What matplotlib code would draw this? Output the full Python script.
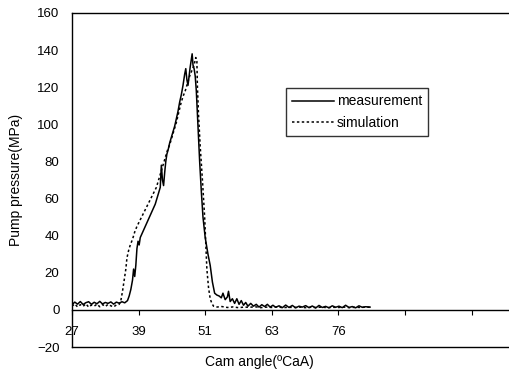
import matplotlib
matplotlib.use("Agg")
import matplotlib.pyplot as plt

plt.rcParams['font.family'] = ['Liberation Sans', 'DejaVu Sans']

# measurement (solid)
meas_x = [27.0, 27.5, 28.0, 28.5, 29.0, 29.5, 30.0, 30.5, 31.0, 31.5, 32.0, 32.5,
          33.0, 33.5, 34.0, 34.5, 35.0, 35.5, 36.0, 36.5,
          37.0, 37.3, 37.6, 37.9, 38.1, 38.3, 38.5, 38.7, 38.9, 39.1, 39.3, 39.6,
          39.9, 40.2, 40.5, 40.8, 41.1, 41.4, 41.7, 42.0, 42.3, 42.6, 42.9, 43.1,
          43.3, 43.5, 43.7, 43.9, 44.1, 44.3, 44.6, 44.9, 45.2, 45.5, 45.8, 46.1,
          46.4, 46.7, 47.0, 47.3, 47.5, 47.7, 47.9, 48.1, 48.3, 48.5, 48.65, 48.8,
          49.0, 49.2, 49.4, 49.6, 49.8, 50.0, 50.3, 50.6, 51.0, 51.5, 51.9, 52.3,
          52.7, 53.1, 53.5, 53.9, 54.2, 54.6, 55.0, 55.2, 55.5, 55.9, 56.3, 56.7,
          57.1, 57.5, 57.9, 58.3, 58.7, 59.2, 59.7, 60.2, 60.7, 61.2, 61.7, 62.2,
          62.7, 63.2, 63.7, 64.3, 64.9, 65.5, 66.1, 66.7, 67.3, 67.9, 68.5, 69.1,
          69.7, 70.3, 70.9, 71.5, 72.1, 72.7, 73.3, 73.9, 74.5, 75.1, 75.7, 76.3,
          76.9, 77.5, 78.1, 78.7, 79.3, 79.9, 80.7]
meas_y = [2.8, 4.2, 3.1, 4.5, 2.9, 3.9, 4.4, 3.0, 4.1, 3.3, 4.6, 3.2,
          4.0, 3.5, 4.3, 3.1, 4.2, 3.6, 4.4, 3.8,
          5.0, 7.5, 11, 16, 22, 18, 24, 33, 37, 35, 39, 41,
          43, 45, 47, 49, 51, 53, 55, 57, 60, 63, 66, 78,
          70, 67, 74, 80, 84, 86, 90, 93, 96, 99, 103, 107,
          112, 116, 121, 127, 130, 124, 121, 126, 131, 135, 138, 132,
          130, 126, 118, 105, 93, 80, 64, 50, 39, 30, 24, 15,
          9, 8, 7.5, 6.5, 9, 5.5, 7, 10, 4.5, 6, 3.5, 6,
          3, 5, 2.5, 4, 2, 3.5, 2, 3, 1.5, 2.8, 1.8, 3,
          1.5, 2.5, 1.4, 2.2, 1.2, 2.6, 1.3, 2.4, 1.1, 2.0, 1.5, 2.3,
          1.2, 2.1, 1.0, 2.4, 1.3, 1.9, 1.1, 2.2, 1.4, 2.0, 1.2, 2.5,
          1.3, 1.8, 1.1, 2.2, 1.4, 1.7, 1.5]

# simulation (dotted)
sim_x = [27.0, 27.5, 28.0, 28.5, 29.0, 29.5, 30.0, 30.5, 31.0, 31.5, 32.0, 32.5,
         33.0, 33.5, 34.0, 34.5, 35.0, 35.5,
         35.8, 36.1, 36.4, 36.7, 36.9, 37.2, 37.5, 37.9, 38.3, 38.7, 39.2, 39.7,
         40.2, 40.7, 41.2, 41.7, 42.2, 42.6, 43.0, 43.4, 43.8, 44.2, 44.6, 45.0,
         45.4, 45.8, 46.2, 46.6, 47.0, 47.4, 47.8, 48.2, 48.6, 49.0, 49.3, 49.5,
         49.6, 49.8, 50.1, 50.5, 50.9, 51.3, 51.6, 51.9, 52.2, 52.5,
         53.0, 54.0, 55.0, 56.0, 57.0, 58.0, 59.0, 60.0, 61.0, 62.0, 63.0, 64.0,
         65.0, 66.0, 67.0, 68.0, 69.0, 70.0, 71.0, 72.0, 73.0, 74.0, 75.0, 76.0,
         77.0, 78.0, 79.0, 80.0, 80.7]
sim_y = [2.0, 3.2, 1.6, 2.8, 1.9, 3.3, 1.5, 2.6, 2.0, 3.1, 1.7, 2.9,
         1.8, 3.0, 2.2, 1.6, 2.7, 3.0,
         5, 10, 16, 22, 28, 32, 35, 38, 42, 45, 48, 51,
         54, 57, 60, 63, 66, 70, 74, 78, 82, 86, 89, 93,
         97, 101, 106, 111, 115, 118, 122, 126, 129, 132, 136, 134,
         120, 105, 88, 70, 50, 22, 12, 6, 3.5, 2,
         1.5, 1.8, 1.3, 1.6, 1.2, 1.5, 1.4, 1.7, 1.2, 1.5, 1.3, 1.6,
         1.2, 1.4, 1.3, 1.5, 1.2, 1.4, 1.3, 1.5, 1.2, 1.4, 1.3, 1.5,
         1.2, 1.4, 1.3, 1.5, 1.4]

tick_pos = [27, 39, 51, 63, 75, 87, 99]
tick_lab = ["27", "39", "51", "63", "76", "", ""]

fig = plt.figure(figsize=(5.1, 3.71), dpi=100)
ax = fig.add_axes([72/510, 1 - 347/371, 438/510, 334/371])

ax.plot(meas_x, meas_y, color="black", lw=1.1, label="measurement")
ax.plot(sim_x, sim_y, color="black", lw=1.1, linestyle=(0, (1.6, 1.6)), label="simulation")

ax.set_xlim(27, 27 + 438/5.55)
ax.set_ylim(-20, 160)
ax.set_yticks([-20, 0, 20, 40, 60, 80, 100, 120, 140, 160])
ax.set_xticks(tick_pos)
ax.set_xticklabels(tick_lab)

ax.spines['right'].set_visible(False)
ax.spines['bottom'].set_position(('data', 0))
for s in ['left', 'top', 'bottom']:
    ax.spines[s].set_linewidth(1.0)
ax.plot([0, 1], [0, 0], transform=ax.transAxes, color="black", lw=1.0, clip_on=False)

ax.tick_params(axis='y', length=0, pad=9, labelsize=9.5)
ax.tick_params(axis='x', direction='out', length=3.5, width=0.8, pad=8, labelsize=9.5)

fig.text(16/510, 1 - 180/371, "Pump pressure(MPa)", rotation=90, fontsize=10,
         ha="center", va="center")
fig.text(259/510, 1 - 362/371, "Cam angle(ºCaA)", fontsize=10, ha="center", va="center")

leg = ax.legend(loc="upper left", bbox_to_anchor=(0.489, 0.775), frameon=True,
                fancybox=False, edgecolor="black", fontsize=10, handlelength=3.0,
                handletextpad=0.2, borderpad=0.45, labelspacing=0.55, borderaxespad=0)
leg.get_frame().set_linewidth(1.0)

fig.savefig("out.png", dpi=100)
